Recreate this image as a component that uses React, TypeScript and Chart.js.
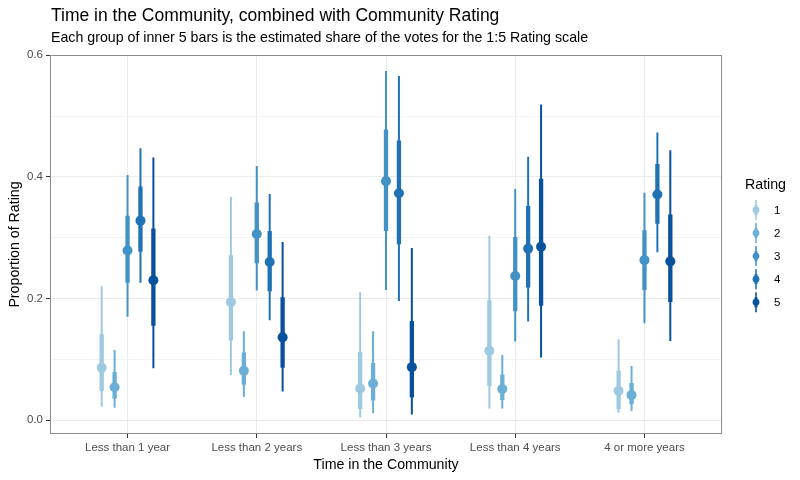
import React, { useEffect, useRef } from 'react';
import { Chart, registerables } from 'chart.js';

Chart.register(...registerables);

// ---------- data ----------
const categories = ['Less than 1 year', 'Less than 2 years', 'Less than 3 years', 'Less than 4 years', '4 or more years'];
const ratings = ['1', '2', '3', '4', '5'];
const ratingColors = ['#9ECAE1', '#6BAED6', '#4292C6', '#2171B5', '#08519C'];

// rows = rating 1..5, columns = categories
const estimate = [
  [0.086, 0.194, 0.052, 0.114, 0.048],
  [0.054, 0.081, 0.060, 0.051, 0.041],
  [0.279, 0.306, 0.393, 0.237, 0.263],
  [0.328, 0.260, 0.373, 0.282, 0.371],
  [0.230, 0.136, 0.087, 0.285, 0.261],
];
const innerLow = [
  [0.048, 0.131, 0.018, 0.056, 0.018],
  [0.035, 0.058, 0.032, 0.033, 0.026],
  [0.226, 0.258, 0.311, 0.179, 0.214],
  [0.277, 0.212, 0.289, 0.218, 0.323],
  [0.155, 0.086, 0.037, 0.188, 0.194],
];
const innerHigh = [
  [0.141, 0.271, 0.112, 0.197, 0.081],
  [0.079, 0.111, 0.094, 0.075, 0.061],
  [0.336, 0.358, 0.478, 0.301, 0.312],
  [0.384, 0.311, 0.460, 0.352, 0.421],
  [0.315, 0.202, 0.163, 0.397, 0.338],
];
const outerLow = [
  [0.022, 0.074, 0.004, 0.019, 0.012],
  [0.020, 0.038, 0.011, 0.019, 0.015],
  [0.170, 0.213, 0.214, 0.129, 0.159],
  [0.226, 0.164, 0.196, 0.162, 0.276],
  [0.085, 0.047, 0.009, 0.103, 0.130],
];
const outerHigh = [
  [0.220, 0.367, 0.210, 0.303, 0.133],
  [0.115, 0.146, 0.146, 0.107, 0.089],
  [0.403, 0.418, 0.574, 0.380, 0.374],
  [0.447, 0.372, 0.566, 0.433, 0.473],
  [0.432, 0.293, 0.283, 0.519, 0.444],
];

const yGridValues = [0, 0.1, 0.2, 0.3, 0.4, 0.5, 0.6];
const yMajorTicks = [0, 0.2, 0.4, 0.6];

const titleText = 'Time in the Community, combined with Community Rating';
const subtitleText = 'Each group of inner 5 bars is the estimated share of the votes for the 1:5 Rating scale';
const xTitle = 'Time in the Community';
const yTitle = 'Proportion of Rating';
const legendTitle = 'Rating';

const dodgeWidth = 0.5;
const FONT = '"Liberation Sans", Arial, Helvetica, sans-serif';

const isMajor = (v: number) => yMajorTicks.some((m) => Math.abs(m - v) < 1e-9);
const dodge = (i: number) => dodgeWidth * ((i + 0.5) / ratings.length - 0.5);

function buildDatasets() {
  const sets: any[] = [];
  ratings.forEach((r, i) => {
    const xs = categories.map((_, g) => g + 1 + dodge(i));
    const color = ratingColors[i];
    sets.push({
      label: `outer ${r}`,
      data: xs.flatMap((x, g) => [
        { x, y: outerLow[i][g] },
        { x, y: outerHigh[i][g] },
        { x, y: null },
      ]),
      borderColor: color,
      borderWidth: 2,
      borderCapStyle: 'butt',
      pointRadius: 0,
      spanGaps: false,
      tension: 0,
      order: 2,
    });
    sets.push({
      label: `inner ${r}`,
      data: xs.flatMap((x, g) => [
        { x, y: innerLow[i][g] },
        { x, y: innerHigh[i][g] },
        { x, y: null },
      ]),
      borderColor: color,
      borderWidth: 4.3,
      borderCapStyle: 'butt',
      pointRadius: 0,
      spanGaps: false,
      tension: 0,
      order: 1,
    });
    sets.push({
      label: r,
      data: xs.map((x, g) => ({ x, y: estimate[i][g] })),
      showLine: false,
      pointRadius: 5,
      pointBorderWidth: 0,
      pointBackgroundColor: color,
      pointBorderColor: color,
      order: 0,
    });
  });
  return sets;
}

const decorations = {
  id: 'decorations',
  afterDraw(chart: any) {
    const { ctx, chartArea } = chart;
    const { left, top, right, bottom } = chartArea;
    ctx.save();
    // panel border
    ctx.strokeStyle = '#8C8C8C';
    ctx.lineWidth = 1;
    ctx.strokeRect(Math.round(left) + 0.5, Math.round(top) + 0.5, Math.round(right - left) - 1, Math.round(bottom - top) - 1);

    // title & subtitle
    ctx.fillStyle = '#000';
    ctx.textAlign = 'left';
    ctx.textBaseline = 'alphabetic';
    ctx.font = `17.5px ${FONT}`;
    ctx.fillText(titleText, 51, 21);
    ctx.font = `14.2px ${FONT}`;
    ctx.fillText(subtitleText, 51, 42);

    // legend
    ctx.font = `14.2px ${FONT}`;
    ctx.fillText(legendTitle, 745, 189);
    const keyX = 756;
    ratings.forEach((r, i) => {
      const cy = 210 + i * 23.05;
      const color = ratingColors[i];
      ctx.strokeStyle = color;
      ctx.lineCap = 'butt';
      ctx.lineWidth = 1.6;
      ctx.beginPath();
      ctx.moveTo(keyX, cy - 10);
      ctx.lineTo(keyX, cy + 10);
      ctx.stroke();
      ctx.lineWidth = 3;
      ctx.beginPath();
      ctx.moveTo(keyX, cy - 5);
      ctx.lineTo(keyX, cy + 5);
      ctx.stroke();
      ctx.fillStyle = color;
      ctx.beginPath();
      ctx.arc(keyX, cy, 3.4, 0, Math.PI * 2);
      ctx.fill();
      ctx.fillStyle = '#000';
      ctx.font = `11.5px ${FONT}`;
      ctx.textBaseline = 'middle';
      ctx.fillText(r, 774, cy + 0.5);
      ctx.textBaseline = 'alphabetic';
    });
    ctx.restore();
  },
};

export default function App() {
  const canvasRef = useRef<HTMLCanvasElement | null>(null);

  useEffect(() => {
    const canvas = canvasRef.current;
    if (!canvas) return;
    const chart = new Chart(canvas, {
      type: 'line',
      data: { datasets: buildDatasets() },
      options: {
        responsive: false,
        animation: false,
        devicePixelRatio: 1,
        layout: { padding: { top: 55, right: 78, left: 0, bottom: 0 } },
        plugins: {
          legend: { display: false },
          title: { display: false },
          tooltip: { enabled: false },
        },
        events: [],
        scales: {
          x: {
            type: 'linear',
            min: 0.4,
            max: 5.6,
            afterBuildTicks: (s: any) => {
              s.ticks = categories.map((_, g) => ({ value: g + 1 }));
            },
            afterFit: (s: any) => {
              s.height = 46;
            },
            ticks: {
              autoSkip: false,
              maxRotation: 0,
              padding: 3,
              color: '#4D4D4D',
              font: { family: FONT, size: 11.5 },
              callback: (v: any) => categories[Math.round(Number(v)) - 1],
            },
            grid: {
              color: '#EBEBEB',
              lineWidth: 1,
              tickColor: '#333333',
              tickLength: 4,
              tickWidth: 1,
            },
            border: { display: false },
            title: {
              display: true,
              text: xTitle,
              color: '#000',
              font: { family: FONT, size: 14.2 },
              padding: { top: 0, bottom: 6 },
            },
          },
          y: {
            type: 'linear',
            min: -0.023,
            max: 0.6005,
            afterBuildTicks: (s: any) => {
              s.ticks = yGridValues.map((v) => ({ value: v }));
            },
            afterFit: (s: any) => {
              s.width = 50;
            },
            ticks: {
              autoSkip: false,
              padding: 3,
              color: '#4D4D4D',
              font: { family: FONT, size: 11.5 },
              callback: (v: any) => (isMajor(Number(v)) ? Number(v).toFixed(1) : ''),
            },
            grid: {
              color: (c: any) => (c.tick && isMajor(c.tick.value) ? '#EBEBEB' : '#F3F3F3'),
              lineWidth: 1,
              tickColor: (c: any) => (c.tick && isMajor(c.tick.value) ? '#333333' : 'rgba(0,0,0,0)'),
              tickLength: 4,
              tickWidth: 1,
            },
            border: { display: false },
            title: {
              display: true,
              text: yTitle,
              color: '#000',
              font: { family: FONT, size: 14.2 },
              padding: { top: 7, bottom: 0 },
            },
          },
        },
      } as any,
      plugins: [decorations],
    });
    return () => chart.destroy();
  }, []);

  return (
    <div style={{ position: 'absolute', left: 0, top: 0, width: 800, height: 480, background: '#fff' }}>
      <canvas ref={canvasRef} width={800} height={480} style={{ display: 'block', width: 800, height: 480 }} />
    </div>
  );
}
